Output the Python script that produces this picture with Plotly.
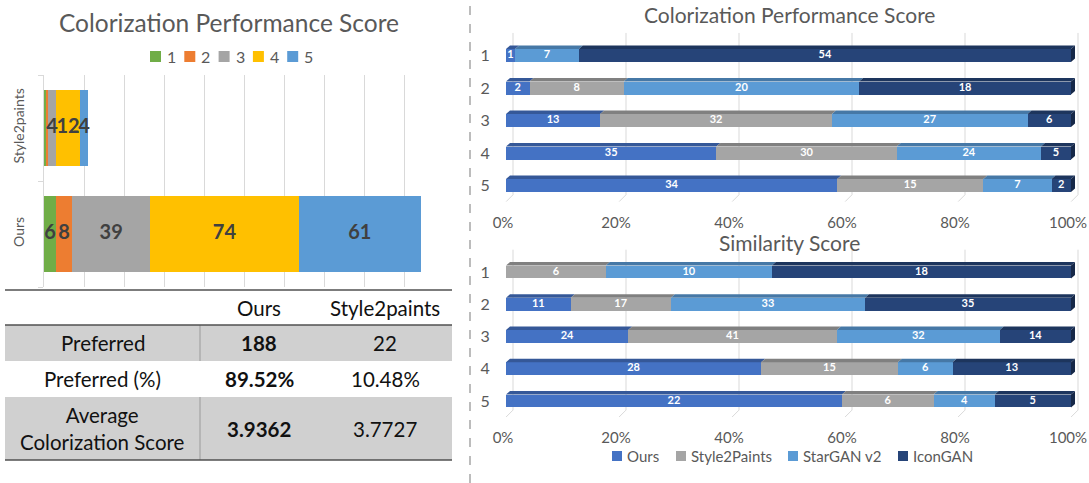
import plotly.graph_objects as go
import numpy as np

W, H = 1089, 483
FONT = "Lato"
GREY_TXT = "#595959"
GRID = "#D9D9D9"

# ---------------- left: score distribution per method ----------------
score_levels = ["1", "2", "3", "4", "5"]
score_colors = ["#70AD47", "#ED7D31", "#A5A5A5", "#FFC000", "#5B9BD5"]
left_methods = ["Ours", "Style2paints"]
ours_counts = [6, 8, 39, 74, 61]
style2paints_counts = [1, 1, 4, 12, 4]

# ---------------- left: summary table ----------------
table_header = ["", "Ours", "Style2paints"]
table_row_names = ["Preferred", "Preferred (%)", "Average<br>Colorization Score"]
table_ours = ["188", "89.52%", "3.9362"]
table_style2paints = ["22", "10.48%", "3.7727"]

# ---------------- right: per-level method counts ----------------
levels = ["1", "2", "3", "4", "5"]
series_names = ["Ours", "Style2Paints", "StarGAN v2", "IconGAN"]
series_colors = ["#4472C4", "#A5A5A5", "#5B9BD5", "#264478"]

cps_ours = [1, 2, 13, 35, 34]
cps_style2paints = [0, 8, 32, 30, 15]
cps_stargan = [7, 20, 27, 24, 7]
cps_icongan = [54, 18, 6, 5, 2]

sim_ours = [0, 11, 24, 28, 22]
sim_style2paints = [6, 17, 41, 15, 6]
sim_stargan = [10, 33, 32, 6, 4]
sim_icongan = [18, 35, 14, 13, 5]

pct_ticks = [0, 0.2, 0.4, 0.6, 0.8, 1.0]
pct_labels = ["0%", "20%", "40%", "60%", "80%", "100%"]


def px(x):
    return x / W


def py(y):
    return 1 - y / H


def shade(hex_color, f):
    h = hex_color.lstrip("#")
    r, g, b = (int(h[i:i + 2], 16) for i in (0, 2, 4))
    return "rgb(%d,%d,%d)" % (r * f, g * f, b * f)


fig = go.Figure()
shapes = []
annotations = []

# ---- left stacked bars ----
left_matrix = np.array([ours_counts, style2paints_counts])  # rows: methods
for i, lvl in enumerate(score_levels):
    fig.add_trace(go.Bar(
        y=left_methods, x=left_matrix[:, i], orientation="h", width=0.71,
        marker=dict(color=score_colors[i], line=dict(width=0)),
        name=lvl, showlegend=False, xaxis="x", yaxis="y", hoverinfo="skip"))

left_cum = np.cumsum(left_matrix, axis=1)
lx, ly, lt = [], [], []
for m, meth in enumerate(left_methods):
    for i in range(len(score_levels)):
        v = left_matrix[m, i]
        if v > 1:
            lx.append(left_cum[m, i] - v / 2)
            ly.append(meth)
            lt.append("<b>%d</b>" % v)
fig.add_trace(go.Scatter(
    x=lx, y=ly, text=lt, mode="text", textposition="middle center",
    textfont=dict(family=FONT, size=20, color="#404040"),
    showlegend=False, hoverinfo="skip", cliponaxis=False, xaxis="x", yaxis="y"))

# left legend
for i, lvl in enumerate(score_levels):
    x0 = 150 + i * 34.3
    shapes.append(dict(type="rect", xref="paper", yref="paper",
                       x0=px(x0), x1=px(x0 + 11), y0=py(62), y1=py(51),
                       fillcolor=score_colors[i], line=dict(width=0)))
    annotations.append(dict(xref="paper", yref="paper", x=px(x0 + 15), y=py(56.5),
                            text=lvl, showarrow=False, xanchor="left", yanchor="middle",
                            font=dict(family=FONT, size=16, color=GREY_TXT)))

annotations.append(dict(xref="paper", yref="paper", x=px(228.5), y=py(22),
                        text="Colorization Performance Score", showarrow=False,
                        xanchor="center", yanchor="middle",
                        font=dict(family=FONT, size=24.5, color=GREY_TXT)))

# ---- left table ----
col_edges = [5, 200, 318, 452]
row_edges = [290, 325, 361, 397, 460]
row_fill = ["white", "#D0D0D0", "white", "#D0D0D0"]
for r in range(4):
    shapes.append(dict(type="rect", xref="paper", yref="paper", layer="below",
                       x0=px(col_edges[0]), x1=px(col_edges[-1]),
                       y0=py(row_edges[r + 1]), y1=py(row_edges[r]),
                       fillcolor=row_fill[r], line=dict(width=0)))
    if row_fill[r] != "white":
        shapes.append(dict(type="line", xref="paper", yref="paper",
                           x0=px(col_edges[1]), x1=px(col_edges[1]),
                           y0=py(row_edges[r + 1]), y1=py(row_edges[r]),
                           line=dict(color="#9A9A9A", width=1)))
for yline in (row_edges[0], row_edges[1], row_edges[-1]):
    shapes.append(dict(type="line", xref="paper", yref="paper",
                       x0=px(col_edges[0]), x1=px(col_edges[-1]), y0=py(yline), y1=py(yline),
                       line=dict(color="#505050", width=1.5)))

col_centers = [(col_edges[k] + col_edges[k + 1]) / 2 for k in range(3)]
row_centers = [(row_edges[k] + row_edges[k + 1]) / 2 for k in range(4)]
table_cells = [table_header] + [
    [table_row_names[k], "<b>%s</b>" % table_ours[k], table_style2paints[k]]
    for k in range(3)]
for r, cells in enumerate(table_cells):
    for c, txt in enumerate(cells):
        if not txt:
            continue
        annotations.append(dict(xref="paper", yref="paper", x=px(col_centers[c]),
                                y=py(row_centers[r]), text=txt, showarrow=False,
                                xanchor="center", yanchor="middle", align="center",
                                font=dict(family=FONT, size=20.5, color="#111111")))

# ---- divider ----
shapes.append(dict(type="line", xref="paper", yref="paper", x0=px(470), x1=px(470),
                   y0=0, y1=1, line=dict(color="#A6A6A6", width=1.5, dash="dash")))

# ---- right: 3D-look 100% stacked bars ----
X0_PX, X1_PX = 506, 1071          # front face 0% and 100%
XSCALE = X1_PX - X0_PX
XR = [-0.02, 1.02]
BAR_W = 0.4
BAR_DX, BAR_DY = 4 / XSCALE, 3.5  # bar depth (dx in data, dy in px)
WALL_DX, WALL_DY = 7 / XSCALE, 7  # back wall depth

panels = [
    dict(xa="x2", ya="y2", bottom=201.75, step=32.5, title="Colorization Performance Score",
         title_y=14, data=[cps_ours, cps_style2paints, cps_stargan, cps_icongan]),
    dict(xa="x3", ya="y3", bottom=417.1, step=32.25, title="Similarity Score",
         title_y=243, data=[sim_ours, sim_style2paints, sim_stargan, sim_icongan]),
]

axis_layout = {}
for p_i, p in enumerate(panels):
    counts = np.array(p["data"], dtype=float)  # series x levels
    totals = counts.sum(axis=0)
    frac = counts / totals
    cum = np.cumsum(frac, axis=0)
    rows = np.arange(1, len(levels) + 1)
    yr = [5.5, 0.3]
    top_px = p["bottom"] - (yr[0] - yr[1]) * p["step"]
    dy = BAR_DY / p["step"]
    wdy = WALL_DY / p["step"]

    for s, name in enumerate(series_names):
        fig.add_trace(go.Bar(
            x=frac[s], y=rows, orientation="h", width=BAR_W, name=name,
            marker=dict(color=series_colors[s], line=dict(width=0)),
            showlegend=False, hoverinfo="skip", xaxis=p["xa"], yaxis=p["ya"]))

    # value labels
    tx, ty, tt = [], [], []
    for s in range(len(series_names)):
        for r in range(len(levels)):
            if counts[s, r] > 0:
                tx.append(cum[s, r] - frac[s, r] / 2)
                ty.append(rows[r])
                tt.append("<b>%d</b>" % counts[s, r])
    fig.add_trace(go.Scatter(
        x=tx, y=ty, text=tt, mode="text", textposition="middle center",
        textfont=dict(family=FONT, size=11, color="white"),
        showlegend=False, hoverinfo="skip", cliponaxis=False,
        xaxis=p["xa"], yaxis=p["ya"]))

    # top and side faces
    for r in range(len(levels)):
        yt = rows[r] - BAR_W / 2
        yb = rows[r] + BAR_W / 2
        last = None
        for s in range(len(series_names)):
            if counts[s, r] <= 0:
                continue
            a, b = cum[s, r] - frac[s, r], cum[s, r]
            shapes.append(dict(
                type="path", xref=p["xa"], yref=p["ya"],
                path="M %f,%f L %f,%f L %f,%f L %f,%f Z" % (
                    a, yt, b, yt, b + BAR_DX, yt - dy, a + BAR_DX, yt - dy),
                fillcolor=shade(series_colors[s], 0.78), line=dict(width=0)))
            last = s
        shapes.append(dict(
            type="path", xref=p["xa"], yref=p["ya"],
            path="M %f,%f L %f,%f L %f,%f L %f,%f Z" % (
                1, yt, 1 + BAR_DX, yt - dy, 1 + BAR_DX, yb - dy, 1, yb),
            fillcolor=shade(series_colors[last], 0.6), line=dict(width=0)))

    # back-wall gridlines and floor edges
    for t in pct_ticks:
        shapes.append(dict(type="line", xref=p["xa"], yref=p["ya"], layer="below",
                           x0=t + WALL_DX, x1=t + WALL_DX, y0=yr[0] - wdy, y1=yr[1],
                           line=dict(color=GRID, width=1)))
        shapes.append(dict(type="line", xref=p["xa"], yref=p["ya"], layer="below",
                           x0=t, x1=t + WALL_DX, y0=yr[0], y1=yr[0] - wdy,
                           line=dict(color=GRID, width=1)))

    annotations.append(dict(xref="paper", yref="paper", x=px(789), y=py(p["title_y"]),
                            text=p["title"], showarrow=False, xanchor="center",
                            yanchor="middle", font=dict(family=FONT, size=21, color=GREY_TXT)))

    dom_x = [px(X0_PX + XR[0] * XSCALE), px(X0_PX + XR[1] * XSCALE)]
    axis_layout["xaxis%d" % (p_i + 2)] = dict(
        domain=dom_x, range=XR, anchor=p["ya"], tickvals=pct_ticks, ticktext=pct_labels,
        showgrid=False, zeroline=False, showline=False, ticks="", automargin=False,
        ticklabeloverflow="allow", ticklabelstandoff=10, ticklabelshift=-3,
        tickfont=dict(family=FONT, size=15, color=GREY_TXT))
    axis_layout["yaxis%d" % (p_i + 2)] = dict(
        domain=[py(p["bottom"]), py(top_px)], range=yr, anchor=p["xa"],
        tickvals=list(rows), ticktext=levels, showgrid=False, zeroline=False,
        showline=False, ticks="", ticklabelstandoff=4, automargin=False,
        tickfont=dict(family=FONT, size=16, color=GREY_TXT))

# right legend
legend_x = [612, 676, 788, 898]
for s, name in enumerate(series_names):
    x0 = legend_x[s]
    shapes.append(dict(type="rect", xref="paper", yref="paper",
                       x0=px(x0), x1=px(x0 + 10), y0=py(461), y1=py(451),
                       fillcolor=series_colors[s], line=dict(width=0)))
    annotations.append(dict(xref="paper", yref="paper", x=px(x0 + 13), y=py(456),
                            text=name, showarrow=False, xanchor="left", yanchor="middle",
                            font=dict(family=FONT, size=15, color=GREY_TXT)))

fig.update_layout(
    width=W, height=H, margin=dict(l=0, r=0, t=0, b=0, autoexpand=False),
    paper_bgcolor="white", plot_bgcolor="rgba(0,0,0,0)",
    barmode="stack", showlegend=False,
    font=dict(family=FONT, color=GREY_TXT),
    xaxis=dict(domain=[px(44), px(445)], range=[0, 200], dtick=20, anchor="y",
               showgrid=True, gridcolor=GRID, gridwidth=1, zeroline=False,
               showline=False, showticklabels=False, ticks="", automargin=False),
    yaxis=dict(domain=[py(287), py(75)], range=[-0.5, 1.5], anchor="x",
               type="category", categoryorder="array", categoryarray=left_methods,
               showgrid=False, zeroline=False, showline=True, linecolor=GRID,
               linewidth=1, ticks="outside", tickson="boundaries", ticklen=5,
               tickcolor=GRID, tickangle=-90, ticklabelstandoff=13, automargin=False,
               tickfont=dict(family=FONT, size=14, color=GREY_TXT)),
    shapes=shapes, annotations=annotations,
    **axis_layout,
)

fig.write_html("out.html")
